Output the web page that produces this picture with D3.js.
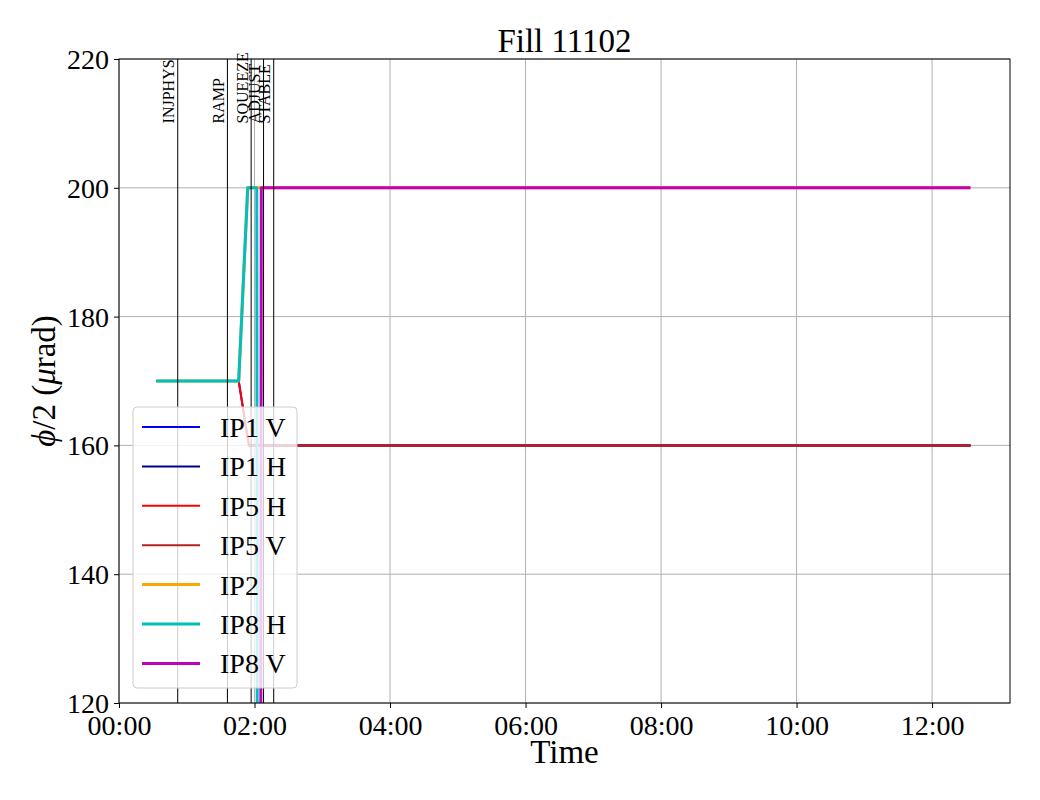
<!DOCTYPE html>
<html>
<head>
<meta charset="utf-8">
<script src="https://cdn.jsdelivr.net/npm/d3@7"></script>
<style>
	body { margin: 0; background: #fff; }
	svg text { font-family: "Liberation Serif", "DejaVu Serif", serif; fill: #000; }
</style>
</head>
<body>
<svg class="chart-container" width="1040" height="800"></svg>
<script>
// chart values
const seriesNames = ['IP1 V', 'IP1 H', 'IP5 H', 'IP5 V', 'IP2', 'IP8 H', 'IP8 V'];
const seriesColors = ['#0000ff', '#00008b', '#ff0000', '#b22222', '#ffa500', '#00bfbf', '#bf00bf'];
const seriesWidths = [2, 2, 2, 2, 3, 3, 3];

const ip1vTimes = ['00:33', '01:46', '01:55', '12:34'];
const ip1vVals = [170, 170, 160, 160];
const ip1hTimes = ['01:55', '12:34'];
const ip1hVals = [160, 160];
const ip5hTimes = ['00:33', '01:46', '01:55', '12:34'];
const ip5hVals = [170, 170, 160, 160];
const ip5vTimes = ['01:55', '12:34'];
const ip5vVals = [160, 160];
const ip2Times = ['00:33', '01:46', '01:54', '12:34'];
const ip2Vals = [170, 170, 200, 200];
const ip8hTimes = ['00:33', '01:46', '01:54', '02:02', '02:03', '12:34'];
const ip8hVals = [170, 170, 200, 200, 0, 0];
const ip8vTimes = ['00:33', '02:05', '02:06', '12:34'];
const ip8vVals = [0, 0, 200, 200];

const phaseNames = ['INJPHYS', 'RAMP', 'SQUEEZE', 'ADJUST', 'STABLE'];
const phaseTimes = ['00:52', '01:36', '01:57', '02:08', '02:17'];

const xTickTimes = ['00:00', '02:00', '04:00', '06:00', '08:00', '10:00', '12:00'];
const yTicks = [120, 140, 160, 180, 200, 220];

// margin conventions
const margin = { top: 59, right: 30, bottom: 97, left: 119 };
const width = 1040 - margin.left - margin.right;
const height = 800 - margin.top - margin.bottom;

const parseTime = d3.timeParse('%H:%M');
const fmtTime = d3.timeFormat('%H:%M');

const x = d3.scaleTime()
	.domain([parseTime('00:00'), parseTime('13:09')])
	.range([0, width]);
const y = d3.scaleLinear()
	.domain([120, 220])
	.range([height, 0]);

const allTimes = [ip1vTimes, ip1hTimes, ip5hTimes, ip5vTimes, ip2Times, ip8hTimes, ip8vTimes];
const allVals = [ip1vVals, ip1hVals, ip5hVals, ip5vVals, ip2Vals, ip8hVals, ip8vVals];
const series = seriesNames.map((name, i) => ({
	name: name,
	color: seriesColors[i],
	width: seriesWidths[i],
	points: allTimes[i].map((t, j) => ({ t: parseTime(t), v: allVals[i][j] }))
}));

const svg = d3.select('.chart-container');
const g = svg.append('g').attr('transform', 'translate(' + margin.left + ',' + margin.top + ')');

svg.append('defs').append('clipPath').attr('id', 'plot-clip')
	.append('rect').attr('width', width).attr('height', height);

// grid lines
const grid = g.append('g').attr('class', 'grid');
grid.selectAll('.gx')
	.data(xTickTimes)
	.enter().append('line')
	.attr('x1', d => x(parseTime(d))).attr('x2', d => x(parseTime(d)))
	.attr('y1', 0).attr('y2', height)
	.attr('stroke', '#b0b0b0').attr('stroke-width', 1);
grid.selectAll('.gy')
	.data(yTicks)
	.enter().append('line')
	.attr('x1', 0).attr('x2', width)
	.attr('y1', d => y(d)).attr('y2', d => y(d))
	.attr('stroke', '#b0b0b0').attr('stroke-width', 1);

// series lines
const line = d3.line().x(d => x(d.t)).y(d => y(d.v));
g.append('g').attr('clip-path', 'url(#plot-clip)')
	.selectAll('path')
	.data(series)
	.enter().append('path')
	.attr('d', d => line(d.points))
	.attr('fill', 'none')
	.attr('stroke', d => d.color)
	.attr('stroke-width', d => d.width)
	.attr('stroke-linejoin', 'round');

// beam mode lines + labels
const phases = g.append('g').attr('class', 'phases');
phases.selectAll('line')
	.data(phaseTimes)
	.enter().append('line')
	.attr('x1', d => x(parseTime(d))).attr('x2', d => x(parseTime(d)))
	.attr('y1', 0).attr('y2', height)
	.attr('stroke', '#000').attr('stroke-width', 1);
phases.selectAll('text')
	.data(phaseNames)
	.enter().append('text')
	.attr('transform', (d, i) => 'translate(' + (x(parseTime(phaseTimes[i])) - 3.5) + ',' + y(210) + ') rotate(-90)')
	.style('font-size', '16px')
	.text(d => d);

// axes
const xAxis = g.append('g')
	.attr('transform', 'translate(0,' + height + ')')
	.call(d3.axisBottom(x)
		.tickValues(xTickTimes.map(parseTime))
		.tickFormat(fmtTime)
		.tickSizeInner(5).tickSizeOuter(0).tickPadding(5));
const yAxis = g.append('g')
	.call(d3.axisLeft(y)
		.tickValues(yTicks)
		.tickSizeInner(5).tickSizeOuter(0).tickPadding(5));
[xAxis, yAxis].forEach(a => {
	a.select('.domain').remove();
	a.selectAll('text').style('font-size', '28px').style('font-family', '"Liberation Serif", serif');
});
xAxis.selectAll('text').attr('dy', '0.78em');
yAxis.selectAll('text').attr('dy', '0.34em');

// frame
g.append('rect')
	.attr('width', width).attr('height', height)
	.attr('fill', 'none').attr('stroke', '#000').attr('stroke-width', 1);

// legend
const legend = g.append('g').attr('transform', 'translate(14,348)');
legend.append('rect')
	.attr('width', 164).attr('height', 281)
	.attr('rx', 4).attr('ry', 4)
	.attr('fill', 'rgba(255,255,255,0.8)')
	.attr('stroke', '#cccccc').attr('stroke-width', 1);
const entries = legend.selectAll('.entry')
	.data(series)
	.enter().append('g')
	.attr('transform', (d, i) => 'translate(0,' + (20 + i * 39.4) + ')');
entries.append('line')
	.attr('x1', 9).attr('x2', 67)
	.attr('stroke', d => d.color)
	.attr('stroke-width', d => d.width);
entries.append('text')
	.attr('x', 87).attr('y', 10)
	.style('font-size', '28px')
	.text(d => d.name);

// titles
svg.append('text')
	.attr('x', margin.left + width / 2).attr('y', 52)
	.attr('text-anchor', 'middle')
	.style('font-size', '33px')
	.text('Fill 11102');
svg.append('text')
	.attr('x', margin.left + width / 2).attr('y', 763)
	.attr('text-anchor', 'middle')
	.style('font-size', '33px')
	.text('Time');
const yLabel = svg.append('text')
	.attr('transform', 'translate(55,' + (margin.top + height / 2) + ') rotate(-90)')
	.attr('text-anchor', 'middle')
	.style('font-size', '33px');
yLabel.append('tspan').style('font-style', 'italic').text('ϕ');
yLabel.append('tspan').text('/2 (');
yLabel.append('tspan').style('font-style', 'italic').text('μ');
yLabel.append('tspan').text('rad)');
</script>
</body>
</html>
